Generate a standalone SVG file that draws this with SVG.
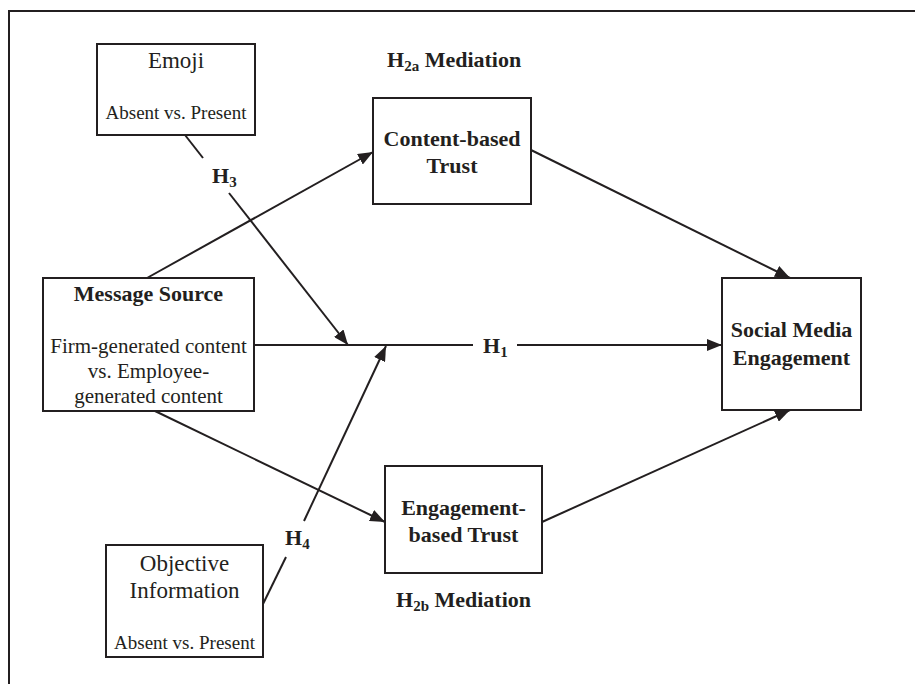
<svg xmlns="http://www.w3.org/2000/svg" width="915" height="684" viewBox="0 0 915 684">
<style>
.box{fill:#fff;stroke:#231f20;stroke-width:2}
.ln{fill:none;stroke:#231f20;stroke-width:2}
.t{font-family:"Liberation Serif","Times New Roman",serif;fill:#231f20;text-anchor:middle}
.b{font-weight:bold;font-size:22px}
.r{font-size:23px}
.s{font-size:19px}
.m{font-size:21px}
.lab{font-family:"Liberation Serif","Times New Roman",serif;fill:#231f20;font-weight:bold;font-size:22px}
</style>
<defs>
<marker id="ah" markerUnits="userSpaceOnUse" markerWidth="16" markerHeight="12" refX="15" refY="6" orient="auto">
<path d="M0,0 L15,6 L0,12 Z" fill="#231f20"/>
</marker>
</defs>
<rect width="915" height="684" fill="#fff"/>
<path class="ln" d="M9,684 V11 H915"/>
<g id="connectors">
<line class="ln" x1="147" y1="278" x2="373" y2="152" marker-end="url(#ah)"/>
<line class="ln" x1="185" y1="135" x2="203" y2="158"/>
<line class="ln" x1="229" y1="193" x2="348" y2="345" marker-end="url(#ah)"/>
<line class="ln" x1="263" y1="604" x2="286" y2="557"/>
<line class="ln" x1="304" y1="521" x2="386" y2="346" marker-end="url(#ah)"/>
<line class="ln" x1="155" y1="411" x2="385" y2="522" marker-end="url(#ah)"/>
<line class="ln" x1="531" y1="150" x2="790" y2="278" marker-end="url(#ah)"/>
<line class="ln" x1="542" y1="522" x2="790" y2="410" marker-end="url(#ah)"/>
<line class="ln" x1="254" y1="345" x2="473" y2="345"/>
<line class="ln" x1="517" y1="345" x2="722" y2="345" marker-end="url(#ah)"/>
<text class="lab" x="483" y="353">H<tspan font-size="15" dy="4">1</tspan></text>
<text class="lab" x="212" y="183">H<tspan font-size="15" dy="4">3</tspan></text>
<text class="lab" x="285" y="545">H<tspan font-size="15" dy="4">4</tspan></text>
</g>
<g id="emoji">
<rect class="box" x="97" y="44" width="158" height="91"/>
<text class="t r" x="176" y="68">Emoji</text>
<text class="t s" x="176" y="119">Absent vs. Present</text>
</g>
<g id="h2a">
<text class="lab" x="387" y="67">H<tspan font-size="15" dy="4">2a</tspan><tspan dy="-4"> Mediation</tspan></text>
</g>
<g id="content-trust">
<rect class="box" x="373" y="98" width="158" height="106"/>
<text class="t b" x="452" y="146">Content-based</text>
<text class="t b" x="452" y="173">Trust</text>
</g>
<g id="message-source">
<rect class="box" x="43" y="278" width="211" height="133"/>
<text class="t b" x="148.5" y="301">Message Source</text>
<text class="t m" x="148.5" y="353">Firm-generated content</text>
<text class="t m" x="148.5" y="378">vs. Employee-</text>
<text class="t m" x="148.5" y="403">generated content</text>
</g>
<g id="social">
<rect class="box" x="722" y="278" width="139" height="132"/>
<text class="t b" x="791.5" y="337">Social Media</text>
<text class="t b" x="791.5" y="365">Engagement</text>
</g>
<g id="engagement-trust">
<rect class="box" x="385" y="466" width="157" height="107"/>
<text class="t b" x="463.5" y="515">Engagement-</text>
<text class="t b" x="463.5" y="542">based Trust</text>
</g>
<g id="h2b">
<text class="lab" x="396" y="607">H<tspan font-size="15" dy="4">2b</tspan><tspan dy="-4"> Mediation</tspan></text>
</g>
<g id="objective">
<rect class="box" x="106" y="545" width="157" height="112"/>
<text class="t r" x="184.5" y="571">Objective</text>
<text class="t r" x="184.5" y="598">Information</text>
<text class="t s" x="184.5" y="649">Absent vs. Present</text>
</g>
</svg>
